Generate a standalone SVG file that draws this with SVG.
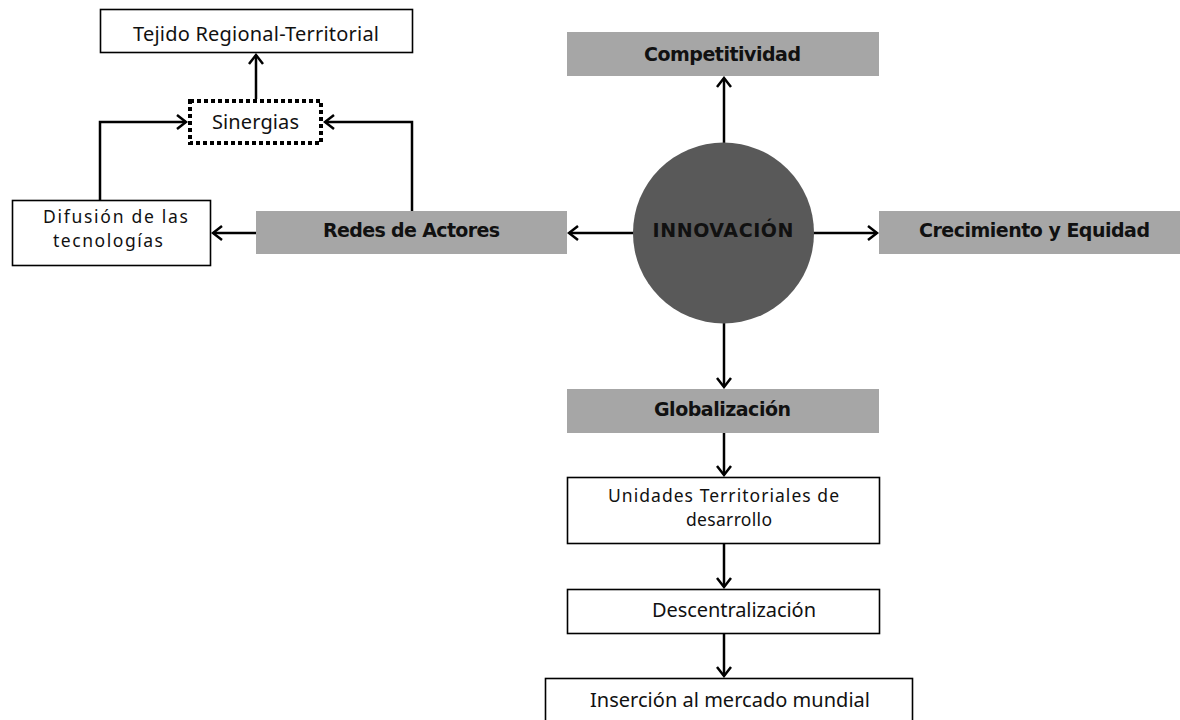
<svg xmlns="http://www.w3.org/2000/svg" width="1180" height="720" viewBox="0 0 1180 720">
<style>
.box{fill:#fff;stroke:#000;stroke-width:1.6}
.gray{fill:#a6a6a6}
.t{font-family:"Noto Sans","Open Sans","DejaVu Sans",sans-serif;font-size:20px;fill:#111;text-anchor:middle}
.t2{font-family:"Noto Sans","Open Sans","DejaVu Sans",sans-serif;font-size:17.5px;fill:#111;text-anchor:middle}
.b{font-family:"DejaVu Sans","Verdana",sans-serif;font-size:19px;font-weight:bold;fill:#111;text-anchor:middle}
.c{fill:none;stroke:#000;stroke-width:2.5}
</style>
<defs>
<marker id="ah" markerUnits="userSpaceOnUse" viewBox="-12 -10 14 20" refX="0" refY="0" markerWidth="14" markerHeight="20" orient="auto">
<path d="M-9,-7 L0,0 L-9,7" fill="none" stroke="#000" stroke-width="2.5"/>
</marker>
</defs>
<rect width="1180" height="720" fill="#fff"/>
<g id="connectors">
<path class="c" d="M256,99 V55" marker-end="url(#ah)"/>
<path class="c" d="M100,200 V122 H186" marker-end="url(#ah)"/>
<path class="c" d="M412,211 V122 H325" marker-end="url(#ah)"/>
<path class="c" d="M256,233 H213" marker-end="url(#ah)"/>
<path class="c" d="M634,233 H569" marker-end="url(#ah)"/>
<path class="c" d="M813,233 H877" marker-end="url(#ah)"/>
<path class="c" d="M724,143 V78" marker-end="url(#ah)"/>
<path class="c" d="M724,323 V387" marker-end="url(#ah)"/>
<path class="c" d="M724,433 V475" marker-end="url(#ah)"/>
<path class="c" d="M724,544 V587" marker-end="url(#ah)"/>
<path class="c" d="M724,634 V676" marker-end="url(#ah)"/>
</g>
<g id="tejido">
<rect class="box" x="100.5" y="9.5" width="312" height="43"/>
<text class="t" x="256" y="40.5" textLength="246">Tejido Regional-Territorial</text>
</g>
<g id="sinergias">
<rect x="190" y="101" width="131" height="42" fill="#fff" stroke="#000" stroke-width="4" stroke-dasharray="4 3"/>
<text class="t" x="255.5" y="128.5" textLength="87">Sinergias</text>
</g>
<g id="difusion">
<rect class="box" x="12.5" y="200.5" width="198" height="65"/>
<text class="t2"><tspan x="115.5" y="223" textLength="145">Difusión de las</tspan><tspan x="108" y="247" textLength="110">tecnologías</tspan></text>
</g>
<g id="redes">
<rect class="gray" x="256" y="211" width="311" height="43"/>
<text class="b" x="411.5" y="237" textLength="177">Redes de Actores</text>
</g>
<g id="innovacion">
<circle cx="723.5" cy="233" r="90.5" fill="#595959"/>
<text class="b" x="723" y="237" textLength="141" font-size="20">INNOVACIÓN</text>
</g>
<g id="competitividad">
<rect class="gray" x="567" y="32" width="312" height="44"/>
<text class="b" x="722.5" y="61" textLength="157">Competitividad</text>
</g>
<g id="crecimiento">
<rect class="gray" x="879" y="211" width="301" height="43"/>
<text class="b" x="1034.5" y="237" textLength="231">Crecimiento y Equidad</text>
</g>
<g id="globalizacion">
<rect class="gray" x="567" y="389" width="312" height="44"/>
<text class="b" x="722.5" y="416" textLength="137">Globalización</text>
</g>
<g id="unidades">
<rect class="box" x="567.5" y="477.5" width="312" height="66"/>
<text class="t2"><tspan x="723.5" y="502" textLength="231">Unidades Territoriales de</tspan><tspan x="729" y="526" textLength="86">desarrollo</tspan></text>
</g>
<g id="descentralizacion">
<rect class="box" x="567.5" y="589.5" width="312" height="44"/>
<text class="t" x="734" y="616.5" textLength="164">Descentralización</text>
</g>
<g id="insercion">
<rect class="box" x="545.5" y="678.5" width="367" height="60"/>
<text class="t" x="730" y="707" textLength="280">Inserción al mercado mundial</text>
</g>
</svg>
